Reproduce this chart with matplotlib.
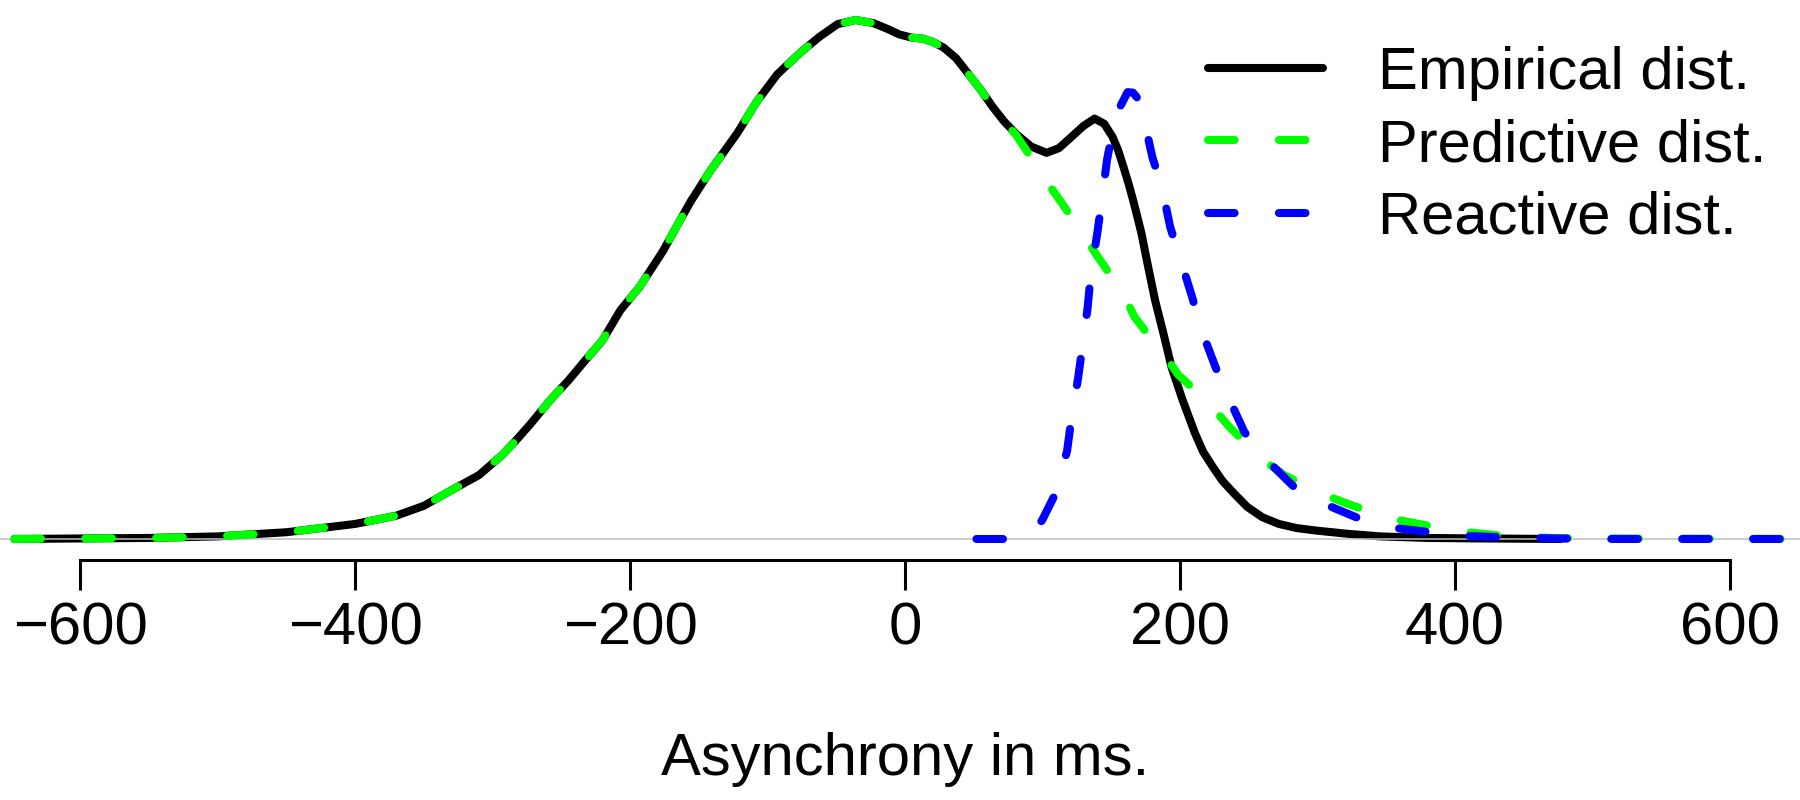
import numpy as np
import matplotlib
matplotlib.use("Agg")
import matplotlib.pyplot as plt

plt.rcParams["font.family"] = ["Liberation Sans", "DejaVu Sans"]

# Empirical density (relative height, peak = 1)
emp_x = [-648, -600, -550, -500, -450, -400, -370, -350, -330, -310, -293, -283,
         -273, -258, -245, -233, -220, -207, -193, -176, -166, -156, -142, -132,
         -122, -108, -93, -83, -74, -62, -49, -36, -23, -12, -4, 5, 13, 20, 28,
         37, 45, 55, 64, 72, 81, 92, 103, 112, 120, 130, 138, 145, 151, 155, 159,
         163, 166, 169, 172, 177, 182, 188, 194, 202, 211, 217, 224, 231, 239,
         249, 260, 272, 285, 300, 322, 346, 380, 420, 477]
emp_y = [0.000, 0.001, 0.002, 0.005, 0.013, 0.029, 0.045, 0.064, 0.094, 0.123,
         0.162, 0.190, 0.220, 0.268, 0.305, 0.343, 0.383, 0.441, 0.486, 0.555,
         0.603, 0.650, 0.708, 0.745, 0.782, 0.842, 0.895, 0.920, 0.942, 0.968,
         0.992, 1.000, 0.994, 0.982, 0.972, 0.966, 0.964, 0.958, 0.947, 0.927,
         0.900, 0.866, 0.832, 0.805, 0.780, 0.756, 0.744, 0.753, 0.772, 0.796,
         0.810, 0.800, 0.775, 0.750, 0.717, 0.682, 0.653, 0.622, 0.590, 0.524,
         0.460, 0.397, 0.331, 0.268, 0.204, 0.168, 0.139, 0.112, 0.089, 0.062,
         0.042, 0.029, 0.021, 0.016, 0.010, 0.005, 0.002, 0.001, 0.000]

# Predictive component
pred_x = [-648, -600, -550, -500, -450, -400, -370, -350, -330, -310, -293, -283,
          -273, -258, -245, -233, -220, -207, -193, -176, -166, -156, -142, -132,
          -122, -108, -93, -83, -74, -62, -49, -36, -23, -12, -4, 5, 13, 20, 28,
          37, 45, 55, 64, 72, 81, 91, 100, 115, 130, 140, 151, 160, 167, 180, 190,
          199, 215, 225, 236, 251, 262, 276, 295, 310, 324, 346, 360, 386, 410,
          435, 470, 520, 649]
pred_y = [0.000, 0.001, 0.002, 0.005, 0.013, 0.029, 0.045, 0.064, 0.094, 0.123,
          0.162, 0.190, 0.220, 0.268, 0.305, 0.343, 0.383, 0.441, 0.486, 0.555,
          0.603, 0.650, 0.708, 0.745, 0.782, 0.842, 0.895, 0.920, 0.942, 0.968,
          0.992, 1.000, 0.994, 0.982, 0.972, 0.966, 0.964, 0.958, 0.947, 0.927,
          0.900, 0.866, 0.832, 0.805, 0.778, 0.738, 0.700, 0.644, 0.585, 0.545,
          0.503, 0.466, 0.428, 0.383, 0.350, 0.316, 0.277, 0.250, 0.216, 0.177,
          0.150, 0.123, 0.098, 0.080, 0.066, 0.046, 0.036, 0.023, 0.013, 0.006,
          0.002, 0.001, 0.000]

# Reactive component
react_x = [52, 76, 88, 95, 100, 110, 118, 121, 126, 129, 133, 135, 140, 143, 147,
           151, 156, 162, 166, 169, 173, 180, 187, 193, 200, 209, 215, 226, 234,
           247, 261, 284, 302, 330, 351, 382, 405, 450, 500, 649]
react_y = [0.000, 0.000, 0.008, 0.020, 0.037, 0.090, 0.170, 0.230, 0.310, 0.368,
           0.447, 0.505, 0.590, 0.647, 0.730, 0.784, 0.830, 0.861, 0.860, 0.850,
           0.820, 0.736, 0.678, 0.601, 0.543, 0.466, 0.408, 0.331, 0.281, 0.206,
           0.158, 0.098, 0.071, 0.040, 0.023, 0.013, 0.006, 0.002, 0.000, 0.000]

xticks = [-600, -400, -200, 0, 200, 400, 600]

fig = plt.figure(figsize=(18, 8), dpi=100)
ax = fig.add_axes([0, 0.30, 1, 0.70])

lw = 5.8
dash = (3.3, 5.5)
ax.plot(emp_x, emp_y, color="black", lw=lw, solid_capstyle="round",
        solid_joinstyle="round", label="Empirical dist.", zorder=2)
ax.axhline(0, color="#bebebe", lw=1.1, zorder=3)
ax.plot(pred_x, pred_y, color="#00ff00", lw=lw, dashes=dash,
        dash_capstyle="round", label="Predictive dist.", zorder=4)
ax.plot(react_x, react_y, color="#0000ff", lw=lw, dashes=dash,
        dash_capstyle="round", label="Reactive dist.", zorder=5)

ax.set_xlim(-658.5, 651.3)
ax.set_ylim(-0.0405, 1.0385)

for s in ["top", "right", "left"]:
    ax.spines[s].set_visible(False)
ax.spines["bottom"].set_bounds(-600, 600)
ax.spines["bottom"].set_linewidth(2.2)
ax.set_yticks([])
ax.set_xticks(xticks)
ax.set_xticklabels([("\u2212" + str(-v)) if v < 0 else str(v) for v in xticks])
ax.tick_params(axis="x", length=21.6, width=2.2, pad=8.5, labelsize=43)

fig.text(0.503, 0.031, "Asynchrony in ms.", ha="center", va="baseline", fontsize=43)

ax.legend(loc="upper left", bbox_to_anchor=(0.6711, 0.9425),
          bbox_transform=fig.transFigure, frameon=False, fontsize=43,
          handlelength=1.92, handletextpad=0.92, labelspacing=0.29,
          borderpad=0, borderaxespad=0)

fig.savefig("out.png", dpi=100)
